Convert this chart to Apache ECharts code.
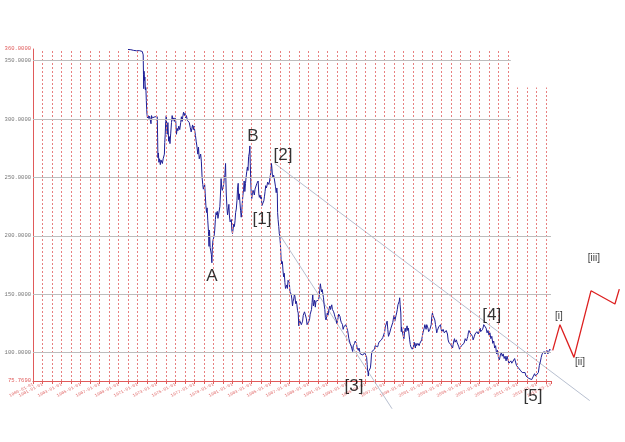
<!DOCTYPE html>
<html><head><meta charset="utf-8">
<script src="https://cdn.jsdelivr.net/npm/echarts@6/dist/echarts.min.js"></script>
<style>html,body{margin:0;padding:0;background:#fff}#c{width:625px;height:442px}</style>
</head><body><div id="c"></div>
<script>
// ---- axis settings / tick labels ----
const xStart = 1960;          // first date on the axis (1960-01-01)
const xEnd = 2014.53;         // position of the last label on the axis
const xOverlayEnd = 2022.32;  // same scale, stretched to the right edge of the picture
const xEndLabel = '2013-03-13';
const yMin = 75.769;
const yMax = 360;
const hGridValues = [100, 150, 200, 250, 300, 350];
const hGridShortValues = [250, 300, 350];   // these stop short at the right
const hGridShortEnd = 2010.3;
const vGridYears = [1961,1962,1963,1964,1965,1966,1967,1968,1969,1970,1971,1972,1973,1974,1975,1976,1977,1978,1979,1980,1981,1982,1983,1984,1985,1986,1987,1988,1989,1990,1991,1992,1993,1994,1995,1996,1997,1998,1999,2000,2001,2002,2003,2004,2005,2006,2007,2008,2009,2010,2011,2012,2013,2014];
const vGridShortFrom = 2010.2;
const vGridShortTop = 327;

// ---- price series (x = date position on the axis, y = rate) ----
const fx1970s = [[1970.00,359.6],[1970.15,358.2],[1970.30,359.4],[1970.45,357.9],[1970.60,358.8],[1970.75,357.6],[1970.90,358.5],[1971.05,357.7],[1971.20,358.6],[1971.35,357.4],[1971.50,357.9],[1971.60,355],
[1971.63,338],[1971.66,326],[1971.69,341],[1971.73,333],[1971.78,336],[1971.83,325],[1971.88,327],[1971.93,316],[1971.97,308],[1972.00,304],[1972.05,301],[1972.12,303],[1972.20,300.5],[1972.28,302.5],[1972.35,301],[1972.42,296],[1972.48,303],[1972.55,301],[1972.65,301.5],[1972.75,300.5],[1972.85,302],[1972.95,301],[1973.08,302],
[1973.12,284],[1973.15,267],[1973.20,271],[1973.25,263],[1973.32,266],[1973.40,261],[1973.47,265],[1973.55,264],[1973.62,262],[1973.70,266],[1973.78,265],[1973.83,270],[1973.87,280],[1973.92,287],[1973.97,298],[1974.03,303],[1974.08,292],[1974.13,287],[1974.20,297],[1974.28,281],[1974.35,285],[1974.42,279],[1974.50,288],[1974.58,297],[1974.65,303],[1974.72,299],[1974.80,301],[1974.88,298],[1974.95,301],[1975.03,298],[1975.10,287],[1975.18,292],[1975.25,290],[1975.35,294],[1975.45,291],[1975.55,297],[1975.62,302],[1975.70,298],[1975.78,303],[1975.85,306],[1975.92,303],[1976.00,305],[1976.08,301],[1976.15,303],[1976.25,299],[1976.35,300],[1976.45,297],[1976.55,293],[1976.65,289],[1976.72,292],[1976.80,295],[1976.88,291],[1976.95,294],[1977.03,290],[1977.10,286],[1977.18,281],[1977.25,277],[1977.35,270],[1977.42,276],[1977.50,266],[1977.58,267],[1977.65,270],[1977.72,264],[1977.80,250],[1977.87,244],[1977.93,240],[1978.00,241],[1978.07,244],[1978.13,236],[1978.20,226],[1978.27,220],[1978.33,224],[1978.40,213],[1978.47,204],[1978.53,191],[1978.58,205],[1978.65,190],[1978.72,191],[1978.78,184],[1978.83,177],[1978.88,190],[1978.94,196],[1979.00,195],[1979.07,200],[1979.13,205],[1979.20,214],[1979.27,220],[1979.33,218],[1979.40,221],[1979.47,215],[1979.53,218],[1979.60,218],[1979.67,225],[1979.73,235],[1979.80,249],[1979.87,241],[1979.93,239]];

const fx1980s = [[1980.00,238],[1980.07,244],[1980.13,249],[1980.20,252],[1980.27,262],[1980.30,250],[1980.35,235],[1980.42,224],[1980.48,218],[1980.55,222],[1980.62,227],[1980.68,217],[1980.75,212],[1980.82,211],[1980.88,214],[1980.93,205],[1981.00,202],[1981.07,206],[1981.13,210],[1981.20,208],[1981.27,213],[1981.33,220],[1981.40,223],[1981.47,230],[1981.53,240],[1981.60,245],[1981.65,231],[1981.72,236],[1981.78,229],[1981.85,222],[1981.92,216],[1981.97,220],[1982.03,228],[1982.10,235],[1982.17,240],[1982.23,247],[1982.30,238],[1982.37,245],[1982.43,250],[1982.50,255],[1982.57,259],[1982.63,256],[1982.70,268],[1982.77,271],[1982.83,277],[1982.87,262],[1982.92,248],[1982.97,236],[1983.03,232],[1983.10,237],[1983.17,239],[1983.23,238],[1983.30,235],[1983.37,240],[1983.43,241],[1983.50,240],[1983.57,245],[1983.63,244],[1983.70,247],[1983.77,236],[1983.83,233],[1983.90,235],[1983.97,232],[1984.03,234],[1984.10,226],[1984.17,225],[1984.23,227],[1984.30,230],[1984.37,234],[1984.43,238],[1984.50,243],[1984.57,241],[1984.63,243],[1984.70,246],[1984.77,245],[1984.83,244],[1984.90,247],[1984.97,251],[1985.03,254],[1985.10,262],[1985.15,258],[1985.20,252],[1985.27,250],[1985.33,252],[1985.40,249],[1985.47,248],[1985.53,242],[1985.60,237],[1985.67,241],[1985.72,236],[1985.75,220],[1985.80,214],[1985.87,208],[1985.93,202],[1985.98,200],[1986.05,192],[1986.12,180],[1986.18,176],[1986.25,178],[1986.32,170],[1986.38,165],[1986.45,168],[1986.52,160],[1986.58,155],[1986.65,154],[1986.72,158],[1986.78,155],[1986.85,162],[1986.92,163],[1986.98,160],[1987.05,152],[1987.12,153],[1987.18,150],[1987.25,146],[1987.32,140],[1987.38,144],[1987.45,146],[1987.52,150],[1987.58,148],[1987.65,142],[1987.72,144],[1987.78,141],[1987.85,136],[1987.92,134],[1987.98,123],[1988.05,128],[1988.12,129],[1988.18,127],[1988.25,124],[1988.32,125],[1988.38,127],[1988.45,132],[1988.52,133],[1988.58,135],[1988.65,133],[1988.72,134],[1988.78,129],[1988.85,124],[1988.92,123],[1988.98,125],[1989.05,127],[1989.12,129],[1989.18,133],[1989.25,132],[1989.32,137],[1989.38,143],[1989.45,150],[1989.52,140],[1989.58,141],[1989.65,145],[1989.72,139],[1989.78,144],[1989.85,143],[1989.92,143],[1989.98,144]];

const fx1990s = [[1990.05,145],[1990.12,148],[1990.18,153],[1990.25,159],[1990.32,155],[1990.38,152],[1990.45,154],[1990.52,150],[1990.58,147],[1990.65,141],[1990.72,137],[1990.78,130],[1990.85,128],[1990.92,131],[1990.98,134],[1991.05,132],[1991.12,131],[1991.18,138],[1991.25,140],[1991.32,137],[1991.38,139],[1991.45,141],[1991.52,137],[1991.58,138],[1991.65,135],[1991.72,133],[1991.78,131],[1991.85,130],[1991.92,128],[1991.98,125],[1992.05,127],[1992.12,130],[1992.18,133],[1992.25,134],[1992.32,131],[1992.38,128],[1992.45,126],[1992.52,127],[1992.58,124],[1992.65,120],[1992.72,122],[1992.78,121],[1992.85,123],[1992.92,124],[1992.98,125],[1993.05,125],[1993.12,119],[1993.18,116],[1993.25,112],[1993.32,110],[1993.38,108],[1993.45,107],[1993.52,105],[1993.58,104],[1993.65,101],[1993.72,106],[1993.78,107],[1993.85,108],[1993.92,110],[1993.98,111],[1994.05,108],[1994.12,104],[1994.18,103],[1994.25,102],[1994.32,104],[1994.38,103],[1994.45,99],[1994.52,99],[1994.58,100],[1994.65,99],[1994.72,98],[1994.78,97],[1994.85,98],[1994.92,100],[1994.98,100],[1995.05,99],[1995.12,96],[1995.18,90],[1995.22,85],[1995.27,83],[1995.30,80],[1995.33,84],[1995.38,83],[1995.45,85],[1995.52,87],[1995.58,92],[1995.63,98],[1995.68,101],[1995.75,100],[1995.82,101],[1995.88,102],[1995.95,103],[1996.02,106],[1996.08,105],[1996.15,106],[1996.22,107],[1996.28,105],[1996.35,107],[1996.42,109],[1996.48,109],[1996.55,108],[1996.62,109],[1996.68,111],[1996.75,112],[1996.82,113],[1996.88,114],[1996.95,116],[1997.02,118],[1997.08,122],[1997.15,123],[1997.22,123],[1997.28,127],[1997.35,120],[1997.42,114],[1997.48,114],[1997.55,117],[1997.62,118],[1997.68,121],[1997.75,122],[1997.82,120],[1997.88,126],[1997.95,130],[1998.02,132],[1998.08,127],[1998.15,126],[1998.22,132],[1998.28,134],[1998.35,137],[1998.42,141],[1998.48,140],[1998.55,144],[1998.60,147],[1998.65,141],[1998.72,134],[1998.77,118],[1998.80,122],[1998.85,119],[1998.92,120],[1998.98,114],[1999.05,112],[1999.12,118],[1999.18,121],[1999.25,118],[1999.32,121],[1999.38,123],[1999.45,119],[1999.52,121],[1999.58,116],[1999.65,111],[1999.72,107],[1999.78,105],[1999.85,105],[1999.92,103],[1999.98,102]];

const fx2000s = [[2000.05,105],[2000.12,109],[2000.18,108],[2000.25,104],[2000.32,108],[2000.38,106],[2000.45,107],[2000.52,108],[2000.58,109],[2000.65,106],[2000.72,108],[2000.78,109],[2000.85,108],[2000.92,111],[2000.98,114],[2001.05,117],[2001.12,116],[2001.18,121],[2001.25,124],[2001.32,122],[2001.38,120],[2001.45,124],[2001.52,125],[2001.58,121],[2001.65,118],[2001.72,117],[2001.78,120],[2001.85,122],[2001.92,124],[2001.98,131],[2002.05,134],[2002.10,132],[2002.17,133],[2002.23,131],[2002.30,128],[2002.37,124],[2002.43,121],[2002.50,117],[2002.57,119],[2002.63,118],[2002.70,122],[2002.77,123],[2002.83,122],[2002.90,124],[2002.97,120],[2003.03,118],[2003.10,118],[2003.17,120],[2003.23,119],[2003.30,117],[2003.37,118],[2003.43,118],[2003.50,119],[2003.57,118],[2003.63,116],[2003.70,111],[2003.77,109],[2003.83,109],[2003.90,108],[2003.97,107],[2004.03,106],[2004.10,108],[2004.17,104],[2004.23,107],[2004.30,110],[2004.37,112],[2004.43,109],[2004.50,110],[2004.57,111],[2004.63,109],[2004.70,110],[2004.77,108],[2004.83,105],[2004.90,103],[2004.97,104],[2005.03,104],[2005.10,106],[2005.17,105],[2005.23,107],[2005.30,106],[2005.37,108],[2005.43,109],[2005.50,112],[2005.57,111],[2005.63,110],[2005.70,112],[2005.77,114],[2005.83,117],[2005.90,119],[2005.95,120],[2006.00,117],[2006.07,116],[2006.13,118],[2006.20,117],[2006.27,114],[2006.33,111],[2006.40,112],[2006.47,114],[2006.53,116],[2006.60,115],[2006.67,117],[2006.73,118],[2006.80,118],[2006.87,116],[2006.93,117],[2007.00,119],[2007.07,121],[2007.13,118],[2007.20,117],[2007.27,119],[2007.33,120],[2007.40,122],[2007.45,124],
[2007.58,124],[2007.70,121],[2007.80,117],[2007.90,119],[2008.00,115],[2008.10,117],[2008.20,112],[2008.30,114],[2008.40,108],[2008.50,110],[2008.60,104],[2008.70,106],[2008.80,99],[2008.90,102],[2009.00,96],[2009.10,94],[2009.20,98],[2009.30,100],[2009.40,97],[2009.50,99],[2009.60,95],[2009.70,97],[2009.80,93],[2009.90,97]];

const fx2010s = [[2010.00,94],[2010.10,91],[2010.20,90],[2010.30,93],[2010.40,91],[2010.50,92],[2010.60,90],[2010.70,95],[2010.80,92],[2010.90,89],[2011.00,90],[2011.10,87],[2011.20,88],[2011.30,85],[2011.40,86],[2011.50,83],[2011.60,84],[2011.70,82],[2011.80,83],[2011.90,80],[2012.00,81],[2012.10,79],[2012.20,78],[2012.30,77.5],[2012.40,78.5],[2012.50,77],[2012.60,76.5],[2012.70,78],[2012.80,82],[2012.90,80],[2013.00,78.5],[2013.10,79],[2013.20,83],[2013.30,89],[2013.40,92],[2013.50,96],[2013.60,99],[2013.70,98],[2013.80,101],[2013.90,99],[2014.00,100],[2014.10,102],[2014.20,99],[2014.30,101],[2014.40,103],[2014.50,102]];

// ---- drawn trend lines and projected wave path ----
const trendUpper = [[1985.45, 262], [2018.6, 59]];
const trendLower = [[1985.9, 202], [1997.8, 52]];
const waveProjection = [[2014.71, 102], [2015.47, 124], [2016.95, 96], [2018.74, 153], [2021.26, 141.7], [2021.72, 154.4]];

// ---- wave labels ----
const bigLabels = [['A', 1978.84, 165.7], ['B', 1983.16, 285.2], ['[2]', 1986.32, 269], ['[1]', 1984.1, 214], ['[3]', 1993.79, 71.6], ['[4]', 2008.3, 131.8], ['[5]', 2012.63, 62.3]];
const smallLabels = [['[i]', 2015.37, 131], ['[ii]', 2017.58, 92], ['[iii]', 2019.05, 181]];

const chart = echarts.init(document.getElementById('c'), null, {renderer: 'canvas'});
const fxData = [].concat(fx1970s, fx1980s, fx1990s, fx2000s, fx2010s);

const vLines = vGridYears.map(yr => [{coord: [yr, yMin]}, {coord: [yr, yr > vGridShortFrom ? vGridShortTop : yMax]}]);
const hLines = hGridValues.map(v => [{coord: [xStart, v]}, {coord: [hGridShortValues.includes(v) ? hGridShortEnd : xEnd, v]}]);

const overlay = {xAxisIndex: 1, yAxisIndex: 1, clip: false};

chart.setOption({
  animation: false,
  backgroundColor: '#ffffff',
  grid: [
    {left: 33, top: 49, width: 518, height: 332, containLabel: false},
    {left: 33, top: 49, width: 592, height: 332, containLabel: false}
  ],
  xAxis: [{
    type: 'value', min: xStart, max: xEnd, interval: 1, gridIndex: 0,
    axisLine: {show: true, lineStyle: {color: '#e05a5a', width: 1}},
    axisTick: {show: true, length: 3, lineStyle: {color: '#e05a5a'}},
    splitLine: {show: false},
    axisLabel: {
      show: true, rotate: 27, fontSize: 4.4, margin: 3,
      fontFamily: 'Liberation Mono', color: '#e06a6a',
      showMinLabel: true, showMaxLabel: true,
      formatter: function (v) {
        if (Math.abs(v - xEnd) < 1e-6) return xEndLabel;
        const y = Math.round(v);
        if (Math.abs(v - y) > 1e-6) return '';
        if (y === xStart || y % 2 === 1) return y + '-01-01';
        return '';
      }
    }
  }, {
    type: 'value', min: xStart, max: xOverlayEnd, gridIndex: 1, show: false,
    splitLine: {show: false}
  }],
  yAxis: [{
    type: 'value', min: yMin, max: yMax, gridIndex: 0,
    axisLine: {show: true, lineStyle: {color: '#e05a5a', width: 1}},
    axisTick: {show: false},
    splitLine: {show: false},
    axisLabel: {
      show: true, fontSize: 5.5, margin: 2, fontFamily: 'Liberation Mono',
      showMinLabel: true, showMaxLabel: true,
      formatter: v => v.toFixed(4),
      color: function (v) {
        const n = typeof v === 'string' ? parseFloat(v) : v;
        return (Math.abs(n - yMin) < 1e-3 || Math.abs(n - yMax) < 1e-3) ? '#e05a5a' : '#777777';
      }
    }
  }, {
    type: 'value', min: yMin, max: yMax, gridIndex: 1, show: false,
    splitLine: {show: false}
  }],
  series: [
    {
      type: 'line', data: [[xStart, yMin]], symbol: 'none', lineStyle: {width: 0}, silent: true, z: 1,
      markLine: {silent: true, symbol: 'none', label: {show: false}, animation: false,
        lineStyle: {color: '#e88080', width: 1, type: [2, 2]}, data: vLines}
    },
    {
      type: 'line', data: [[xStart, yMin]], symbol: 'none', lineStyle: {width: 0}, silent: true, z: 1,
      markLine: {silent: true, symbol: 'none', label: {show: false}, animation: false,
        lineStyle: {color: '#bdbdbd', width: 1, type: 'solid'}, data: hLines}
    },
    {
      type: 'line', data: fxData, symbol: 'none', showSymbol: false, z: 3,
      lineStyle: {color: '#1f1f96', width: 1}
    },
    Object.assign({
      type: 'line', data: trendUpper, symbol: 'none', z: 2,
      lineStyle: {color: '#b8c0d0', width: 1}
    }, overlay),
    Object.assign({
      type: 'line', data: trendLower, symbol: 'none', z: 2,
      lineStyle: {color: '#b8c0d0', width: 1}
    }, overlay),
    Object.assign({
      type: 'line', data: waveProjection, symbol: 'none', z: 3,
      lineStyle: {color: '#dd2020', width: 1.3}
    }, overlay),
    Object.assign({
      type: 'scatter', symbolSize: 0, z: 5,
      data: bigLabels.map(d => ({name: d[0], value: [d[1], d[2]]})),
      label: {show: true, position: 'inside', formatter: '{b}', color: '#000', fontSize: 17, fontFamily: 'Liberation Sans'}
    }, overlay),
    Object.assign({
      type: 'scatter', symbolSize: 0, z: 5,
      data: smallLabels.map(d => ({name: d[0], value: [d[1], d[2]]})),
      label: {show: true, position: 'inside', formatter: '{b}', color: '#000', fontSize: 10, fontFamily: 'Liberation Sans'}
    }, overlay)
  ]
});
</script>
</body></html>
